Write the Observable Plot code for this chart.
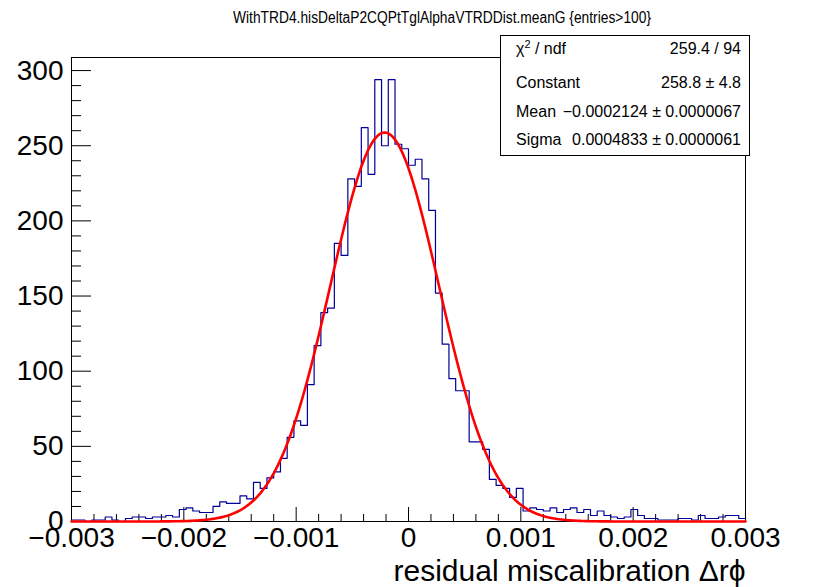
<!DOCTYPE html>
<html><head><meta charset="utf-8">
<script src="https://cdn.jsdelivr.net/npm/d3@7"></script>
<script src="https://cdn.jsdelivr.net/npm/@observablehq/plot@0.6"></script>
<style>
body{margin:0;background:#fff;}
#wrap{position:relative;width:819px;height:587px;font-family:"Liberation Sans",Arial,Helvetica,sans-serif;color:#000;}
#chart{position:absolute;left:0;top:0;}
#title{position:absolute;left:0;top:9px;font-size:16px;line-height:18px;white-space:nowrap;transform-origin:0 0;}
#stats{position:absolute;left:500px;top:35px;width:250px;height:121px;border:1px solid #000;background:#fff;box-sizing:border-box;font-size:16px;}
.row{position:absolute;left:15px;right:8px;height:30px;line-height:30px;display:flex;justify-content:space-between;white-space:nowrap;}
.row sup{font-size:0.68em;line-height:0;vertical-align:0.55em;}
</style></head>
<body><div id="wrap"><div id="chart"></div><div id="title"></div><div id="stats"></div></div>
<script>
// ---- data ----
const titleText = "WithTRD4.hisDeltaP2CQPtTglAlphaVTRDDist.meanG {entries>100}";
const xTitle = "residual miscalibration \u0394r\u03d5";
const binLow = -0.003, binHigh = 0.003;
const counts = [
  1, 1, 0, 1, 1, 3, 1, 0, 2, 3,
  3, 2, 3, 3, 4, 3, 8, 9, 7, 6,
  6, 10, 13, 12, 12, 17, 15, 26, 22, 29,
  33, 42, 56, 67, 64, 91, 117, 139, 142, 185,
  177, 228, 223, 262, 231, 294, 250, 294, 251, 248,
  237, 241, 228, 207, 152, 118, 95, 87, 87, 53,
  53, 48, 28, 24, 22, 16, 22, 7, 9, 8,
  7, 9, 6, 8, 9, 6, 8, 4, 7, 4,
  3, 2, 3, 8, 4, 2, 2, 1, 1, 1,
  2, 2, 1, 4, 2, 2, 3, 4, 4, 2
];
const statNames = ["\u03c7<sup>2</sup> / ndf", "Constant", "Mean", "Sigma"];
const statTexts = ["259.4 / 94", "258.8 \u00b1 4.8", "\u22120.0002124 \u00b1 0.0000067", "0.0004833 \u00b1 0.0000061"];
const fitConstant = 258.8, fitMean = -0.0002124, fitSigma = 0.0004833;
const xMajorTicks = [-0.003, -0.002, -0.001, 0, 0.001, 0.002, 0.003];
const xTickLabels = ["\u22120.003", "\u22120.002", "\u22120.001", "0", "0.001", "0.002", "0.003"];
const yMajorTicks = [0, 50, 100, 150, 200, 250, 300];
const yTickLabels = ["0", "50", "100", "150", "200", "250", "300"];
const yMax = 308.7;

// ---- derived ----
const W = 819, H = 587, mL = 71, mR = 74, mT = 57, mB = 66;
const frameW = W - mL - mR, frameH = H - mT - mB;
const binW = (binHigh - binLow) / counts.length;
const histPts = counts.map((c, i) => ({x: binLow + i * binW, y: c}));
histPts.push({x: binHigh, y: counts[counts.length - 1]});
const fitPts = d3.range(0, 301).map(k => {
  const x = binLow + k * (binHigh - binLow) / 300;
  return {x, y: fitConstant * Math.exp(-0.5 * ((x - fitMean) / fitSigma) ** 2)};
});
const xMinor = d3.range(-15, 16).map(k => k * 0.0002).filter(v => Math.abs(Math.round(v * 1000) - v * 1000) > 1e-6);
const yMinor = d3.range(0, 31).map(k => k * 10).filter(v => v % 50 !== 0);

const chart = Plot.plot({
  width: W, height: H,
  marginLeft: mL, marginRight: mR, marginTop: mT, marginBottom: mB,
  x: {domain: [binLow, binHigh], axis: null},
  y: {domain: [0, yMax], axis: null},
  style: {fontFamily: '"Liberation Sans", Arial, Helvetica, sans-serif', background: "white", overflow: "visible", color: "black"},
  marks: [
    Plot.frame({stroke: "black", strokeWidth: 1}),
    Plot.ruleX(xMinor, {x: d => d, stroke: "black", insetTop: frameH - 7}),
    Plot.ruleX(xMajorTicks, {x: d => d, stroke: "black", insetTop: frameH - 14}),
    Plot.ruleY(yMinor, {y: d => d, stroke: "black", insetRight: frameW - 10}),
    Plot.ruleY(yMajorTicks, {y: d => d, stroke: "black", insetRight: frameW - 20}),
    Plot.line(histPts, {x: "x", y: "y", curve: "step-after", stroke: "#000099", strokeWidth: 1.2}),
    Plot.line(fitPts, {x: "x", y: "y", stroke: "#ff0000", strokeWidth: 2.6}),
    Plot.text(xMajorTicks, {x: d => d, text: (d, i) => xTickLabels[i], frameAnchor: "bottom", lineAnchor: "top", dy: 6, fontSize: 28}),
    Plot.text(yMajorTicks, {y: d => d, text: (d, i) => yTickLabels[i], frameAnchor: "left", textAnchor: "end", dx: -8, fontSize: 28}),
    Plot.text([xTitle], {text: d => d, frameAnchor: "bottom-right", textAnchor: "end", lineAnchor: "top", dy: 38, fontSize: 30})
  ]
});
document.getElementById("chart").appendChild(chart);

// title: fit to the reference span
const title = document.getElementById("title");
title.textContent = titleText;
const tLeft = 233, tRight = 651;
const tw = title.getBoundingClientRect().width;
title.style.left = tLeft + "px";
title.style.transform = `scaleX(${(tRight - tLeft) / tw})`;

const stats = document.getElementById("stats");
const rowCenters = [13, 47, 76, 104];
statNames.forEach((n, i) => {
  const r = document.createElement("div");
  r.className = "row";
  r.style.top = (rowCenters[i] - 15) + "px";
  r.innerHTML = `<span>${n}</span><span>${statTexts[i]}</span>`;
  stats.appendChild(r);
});
</script>
</body></html>
